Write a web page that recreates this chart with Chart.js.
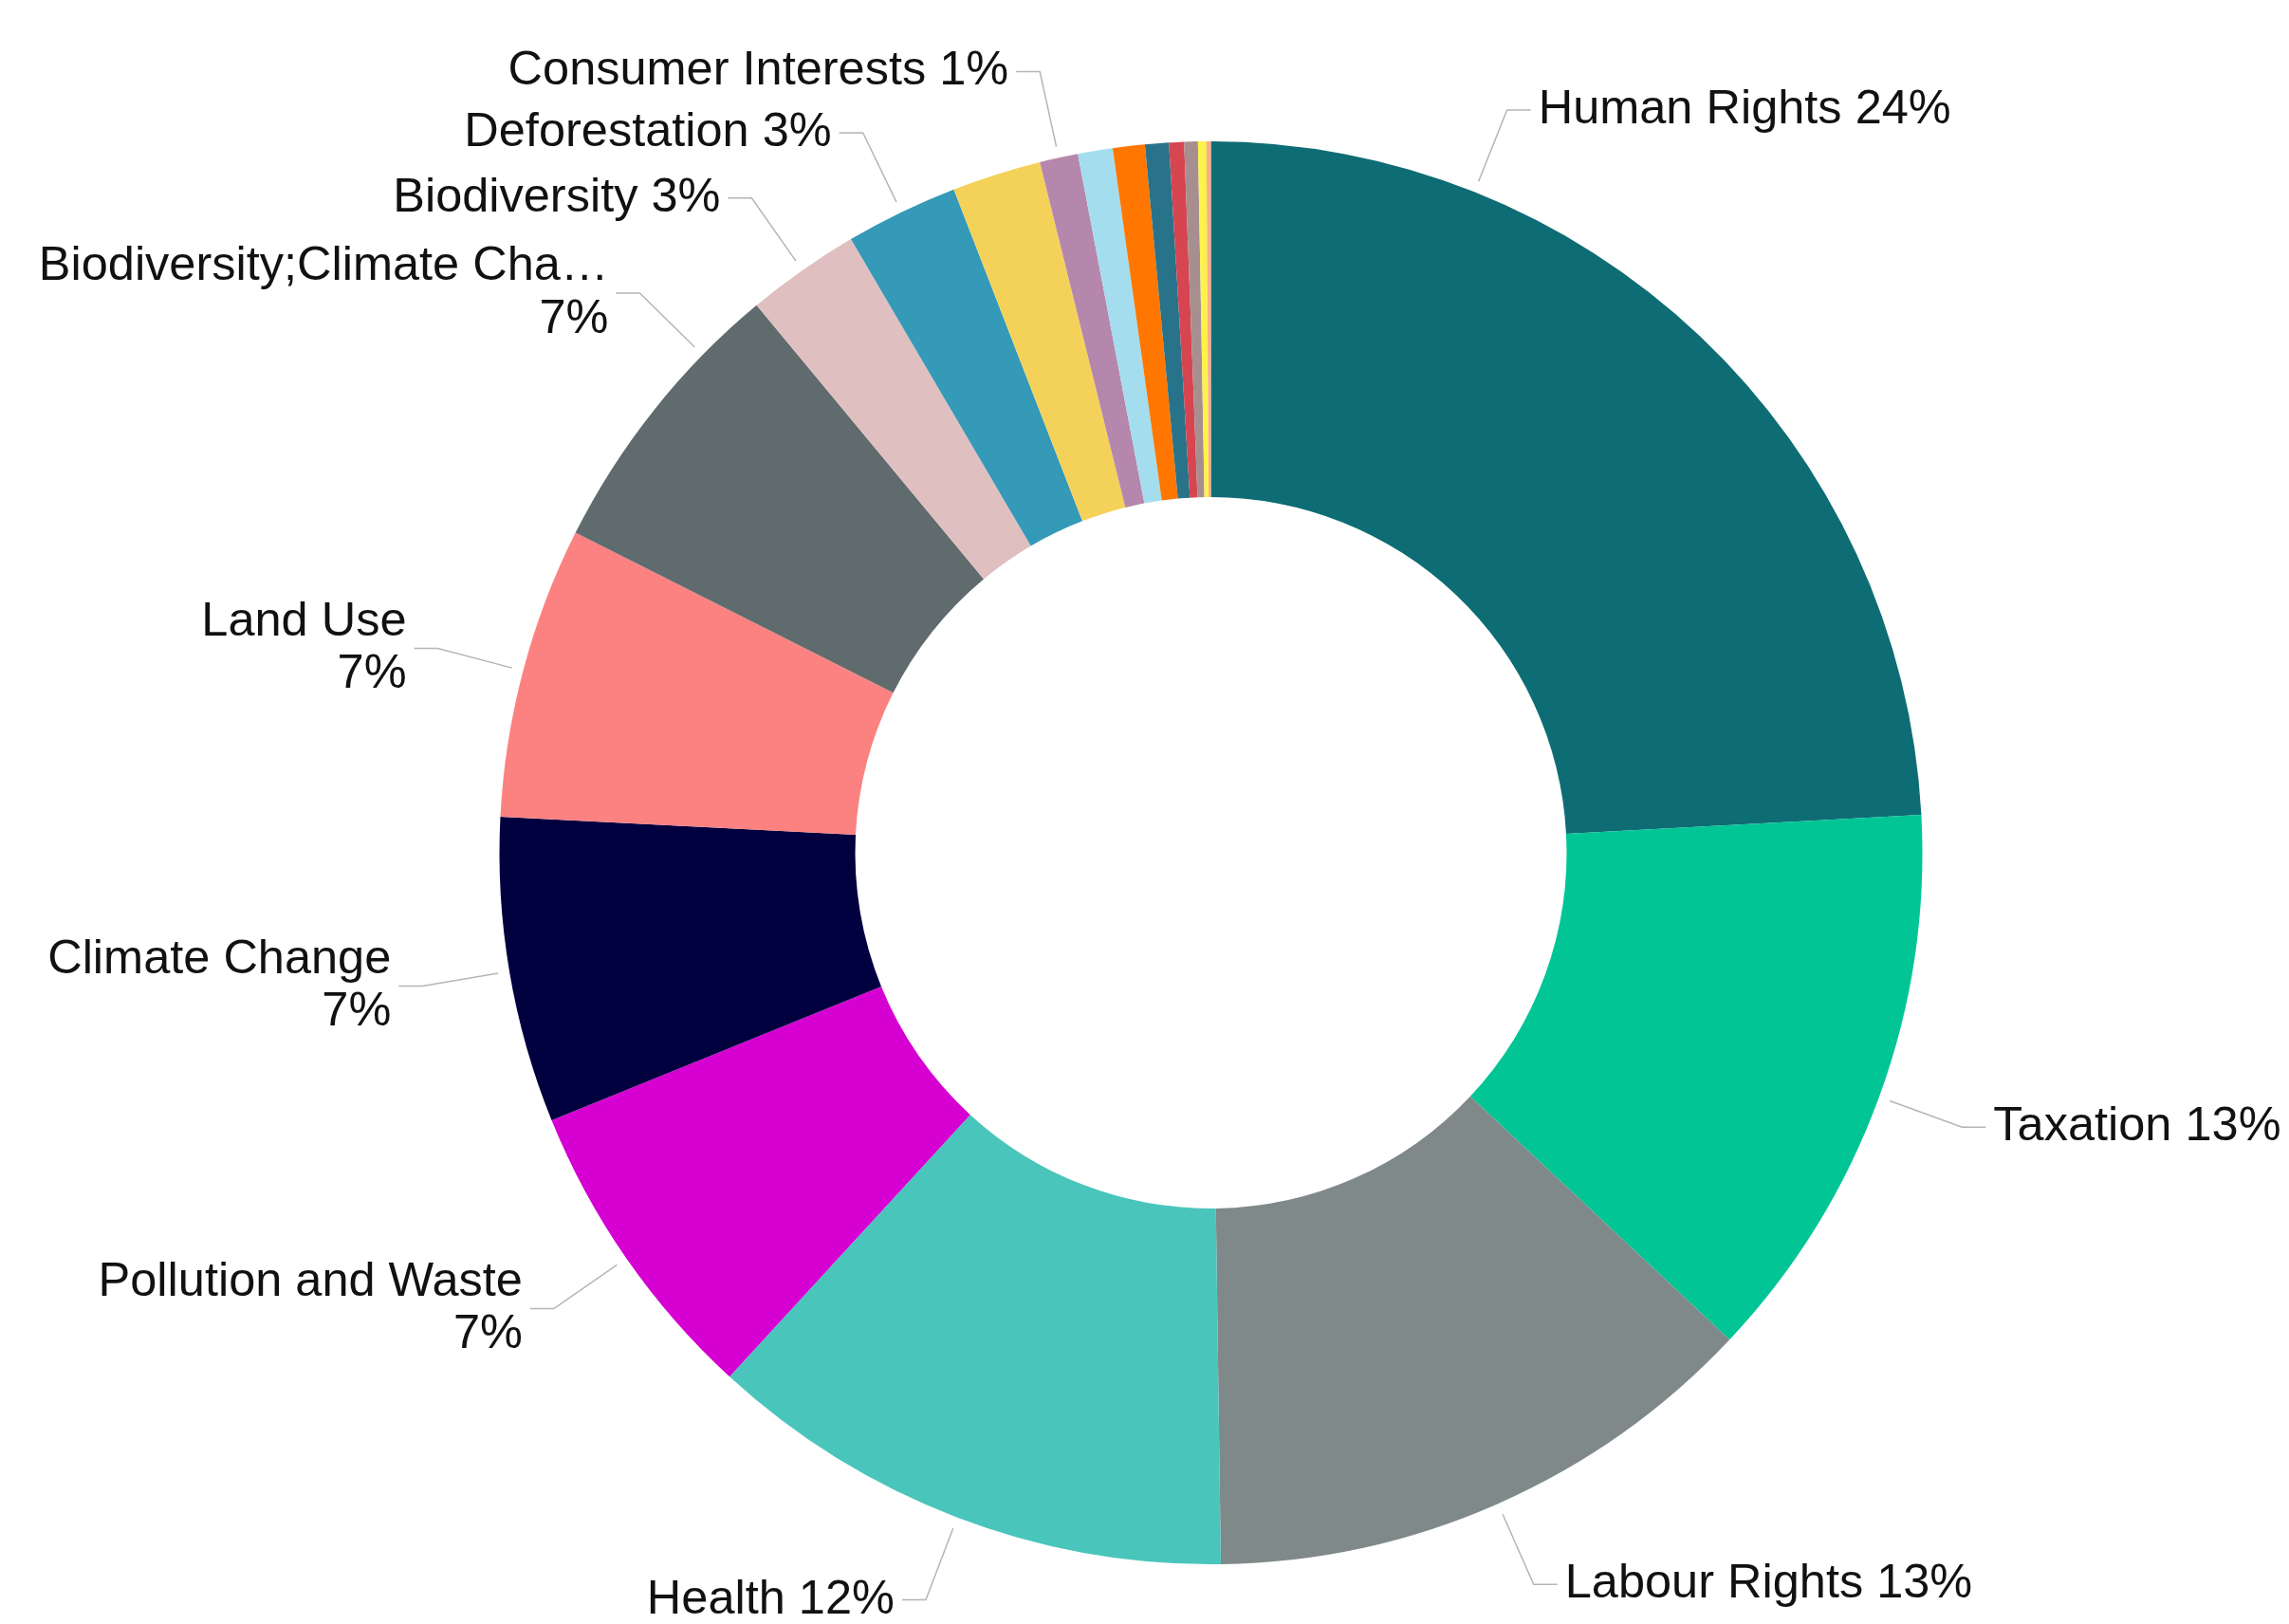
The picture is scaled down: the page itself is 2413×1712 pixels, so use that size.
<!DOCTYPE html>
<html>
<head>
<meta charset="utf-8">
<script src="https://cdn.jsdelivr.net/npm/chart.js@4.4.1/dist/chart.umd.min.js"></script>
<style>
  html, body { margin: 0; padding: 0; background: #fff; }
  #wrap { width: 2413px; height: 1712px; position: relative; }
</style>
</head>
<body>
<div id="wrap"><canvas id="topicsDonut"></canvas></div>
<script>
// categories in clockwise order from 12 o'clock (blank = no label shown in the picture)
const topics = [
  'Human Rights', 'Taxation', 'Labour Rights', 'Health', 'Pollution and Waste',
  'Climate Change', 'Land Use', 'Biodiversity;Climate Change', 'Biodiversity', 'Deforestation',
  '', 'Consumer Interests', '', '', '', '', '', '', ''
];
// share of all items, percent
const shares = [
  24.15, 12.85, 12.78, 12.05, 7.04,
  6.94, 6.62, 6.55, 2.58, 2.56,
  2.02, 0.87, 0.79, 0.725, 0.54, 0.34, 0.31, 0.19, 0.10
];
const sliceColors = [
  '#0E6C74', '#02C596', '#7F898A', '#4AC5BB', '#D600D3',
  '#00003F', '#FB8281', '#5F6B6D', '#DFBFBF', '#3599B8',
  '#F4D25A', '#B687AC', '#A4DDEE', '#FF7700', '#28738A', '#D64550', '#A78F8F', '#FFF24A', '#FDAB89'
];

// label styling: where on the slice the leader starts, and which labels break onto two lines
const anchorFrac = { 0: 0.25, 7: 0.75 };
const twoLine = [4, 5, 6, 7];

const labelFont = '50.5px "Liberation Sans", Arial, sans-serif';

const leaderLabels = {
  id: 'leaderLabels',
  afterDatasetsDraw(chart) {
    const ctx = chart.ctx;
    const meta = chart.getDatasetMeta(0);
    const total = shares.reduce((a, b) => a + b, 0);
    ctx.save();
    ctx.font = labelFont;
    meta.data.forEach((arc, i) => {
      const name = topics[i];
      if (!name) return;
      const p = arc.getProps(['x', 'y', 'startAngle', 'endAngle', 'outerRadius'], true);
      const f = anchorFrac[i] !== undefined ? anchorFrac[i] : 0.5;
      const a = p.startAngle + f * (p.endAngle - p.startAngle);
      const r0 = p.outerRadius + 12, r1 = p.outerRadius + 93;
      const x0 = p.x + r0 * Math.cos(a), y0 = p.y + r0 * Math.sin(a);
      const x1 = p.x + r1 * Math.cos(a), y1 = p.y + r1 * Math.sin(a);
      const right = Math.cos(a) >= 0;
      const x2 = x1 + (right ? 25 : -25);

      ctx.strokeStyle = '#b5b5b5';
      ctx.lineWidth = 1.5;
      ctx.beginPath();
      ctx.moveTo(x0, y0);
      ctx.lineTo(x1, y1);
      ctx.lineTo(x2, y1);
      ctx.stroke();

      // truncate long names like the original
      let shown = name;
      const maxW = 615;
      if (ctx.measureText(shown).width > maxW) {
        while (shown.length > 1 && ctx.measureText(shown + '…').width > maxW) shown = shown.slice(0, -1);
        shown = shown.trimEnd() + '…';
      }
      const pct = Math.round(shares[i] / total * 100) + '%';

      ctx.fillStyle = '#111';
      ctx.textAlign = right ? 'left' : 'right';
      ctx.textBaseline = 'middle';
      const tx = x2 + (right ? 8 : -8);
      if (twoLine.includes(i)) {
        ctx.fillText(shown, tx, y1 - 27.7);
        ctx.fillText(pct, tx, y1 + 27.7);
      } else {
        ctx.fillText(shown + ' ' + pct, tx, y1);
      }
    });
    ctx.restore();
  }
};

new Chart(document.getElementById('topicsDonut'), {
  type: 'doughnut',
  data: {
    labels: topics,
    datasets: [{
      data: shares,
      backgroundColor: sliceColors,
      borderWidth: 0
    }]
  },
  options: {
    responsive: true,
    maintainAspectRatio: false,
    animation: false,
    cutout: '50%',
    layout: { padding: { left: 526, right: 386, top: 149, bottom: 63 } },
    plugins: {
      legend: { display: false },
      tooltip: { enabled: false }
    }
  },
  plugins: [leaderLabels]
});
</script>
</body>
</html>
